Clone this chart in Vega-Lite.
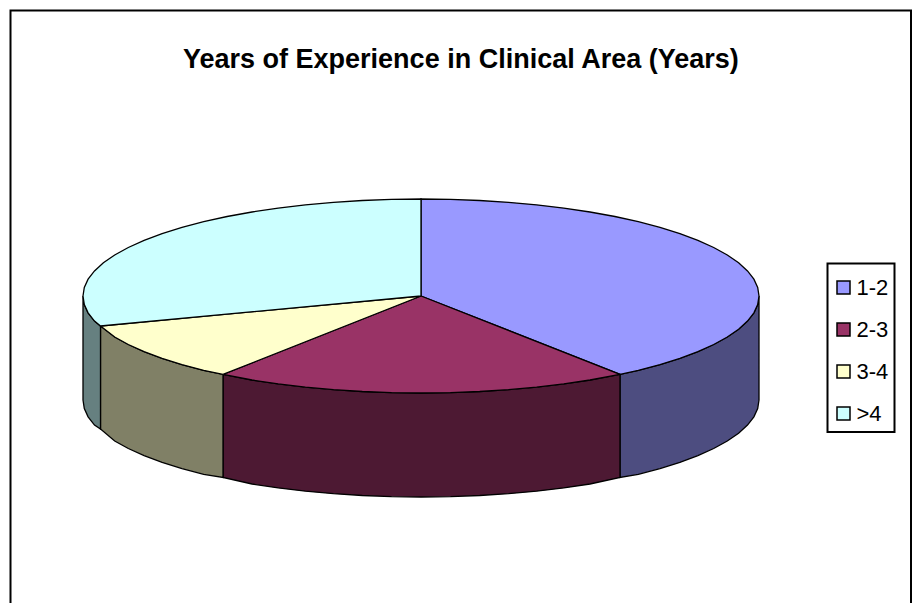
{"$schema":"https://vega.github.io/schema/vega-lite/v6.json","width":918,"height":603,"padding":0,"autosize":"none","background":"white","view":{"stroke":null},
"title":{"text":"Years of Experience in Clinical Area (Years)","font":"Liberation Sans","fontSize":27,"fontWeight":"bold","color":"#000000","anchor":"start","frame":"bounds","dx":183,"dy":0,"offset":-74},
"datasets":{"top":[
{"k":"1-2","i":0,"x":421,"y":296},{"k":"1-2","i":1,"x":421,"y":199},{"k":"1-2","i":2,"x":450.5,"y":199.4},{"k":"1-2","i":3,"x":479.7,"y":200.5},{"k":"1-2","i":4,"x":508.5,"y":202.3},{"k":"1-2","i":5,"x":536.6,"y":204.8},{"k":"1-2","i":6,"x":563.8,"y":208.1},{"k":"1-2","i":7,"x":590,"y":212},{"k":"1-2","i":8,"x":614.9,"y":216.5},{"k":"1-2","i":9,"x":638.3,"y":221.7},{"k":"1-2","i":10,"x":660,"y":227.4},{"k":"1-2","i":11,"x":679.9,"y":233.6},{"k":"1-2","i":12,"x":697.9,"y":240.4},{"k":"1-2","i":13,"x":713.7,"y":247.5},{"k":"1-2","i":14,"x":727.3,"y":255},{"k":"1-2","i":15,"x":738.6,"y":262.8},{"k":"1-2","i":16,"x":747.5,"y":270.9},{"k":"1-2","i":17,"x":753.9,"y":279.2},{"k":"1-2","i":18,"x":757.7,"y":287.5},{"k":"1-2","i":19,"x":759,"y":296},{"k":"1-2","i":20,"x":757.7,"y":304.5},{"k":"1-2","i":21,"x":753.9,"y":312.8},{"k":"1-2","i":22,"x":747.5,"y":321.1},{"k":"1-2","i":23,"x":738.6,"y":329.2},{"k":"1-2","i":24,"x":727.3,"y":337},{"k":"1-2","i":25,"x":713.7,"y":344.5},{"k":"1-2","i":26,"x":697.9,"y":351.6},{"k":"1-2","i":27,"x":679.9,"y":358.4},{"k":"1-2","i":28,"x":660,"y":364.6},{"k":"1-2","i":29,"x":638.3,"y":370.3},{"k":"1-2","i":30,"x":620,"y":374.4},{"k":"1-2","i":31,"x":421,"y":296},
{"k":"2-3","i":0,"x":421,"y":296},{"k":"2-3","i":1,"x":620,"y":374.4},{"k":"2-3","i":2,"x":590,"y":380},{"k":"2-3","i":3,"x":563.8,"y":383.9},{"k":"2-3","i":4,"x":536.6,"y":387.2},{"k":"2-3","i":5,"x":508.5,"y":389.7},{"k":"2-3","i":6,"x":479.7,"y":391.5},{"k":"2-3","i":7,"x":450.5,"y":392.6},{"k":"2-3","i":8,"x":421,"y":393},{"k":"2-3","i":9,"x":391.5,"y":392.6},{"k":"2-3","i":10,"x":362.3,"y":391.5},{"k":"2-3","i":11,"x":333.5,"y":389.7},{"k":"2-3","i":12,"x":305.4,"y":387.2},{"k":"2-3","i":13,"x":278.2,"y":383.9},{"k":"2-3","i":14,"x":252,"y":380},{"k":"2-3","i":15,"x":223,"y":374.4},{"k":"2-3","i":16,"x":421,"y":296},
{"k":"3-4","i":0,"x":421,"y":296},{"k":"3-4","i":1,"x":223,"y":374.4},{"k":"3-4","i":2,"x":203.7,"y":370.3},{"k":"3-4","i":3,"x":182,"y":364.6},{"k":"3-4","i":4,"x":162.1,"y":358.4},{"k":"3-4","i":5,"x":144.1,"y":351.6},{"k":"3-4","i":6,"x":128.3,"y":344.5},{"k":"3-4","i":7,"x":114.7,"y":337},{"k":"3-4","i":8,"x":100.5,"y":326},{"k":"3-4","i":9,"x":421,"y":296},
{"k":">4","i":0,"x":421,"y":296},{"k":">4","i":1,"x":100.5,"y":326},{"k":">4","i":2,"x":94.5,"y":321.1},{"k":">4","i":3,"x":88.1,"y":312.8},{"k":">4","i":4,"x":84.3,"y":304.5},{"k":">4","i":5,"x":83,"y":296},{"k":">4","i":6,"x":84.3,"y":287.5},{"k":">4","i":7,"x":88.1,"y":279.2},{"k":">4","i":8,"x":94.5,"y":270.9},{"k":">4","i":9,"x":103.4,"y":262.8},{"k":">4","i":10,"x":114.7,"y":255},{"k":">4","i":11,"x":128.3,"y":247.5},{"k":">4","i":12,"x":144.1,"y":240.4},{"k":">4","i":13,"x":162.1,"y":233.6},{"k":">4","i":14,"x":182,"y":227.4},{"k":">4","i":15,"x":203.7,"y":221.7},{"k":">4","i":16,"x":227.1,"y":216.5},{"k":">4","i":17,"x":252,"y":212},{"k":">4","i":18,"x":278.2,"y":208.1},{"k":">4","i":19,"x":305.4,"y":204.8},{"k":">4","i":20,"x":333.5,"y":202.3},{"k":">4","i":21,"x":362.3,"y":200.5},{"k":">4","i":22,"x":391.5,"y":199.4},{"k":">4","i":23,"x":421,"y":199},{"k":">4","i":24,"x":421,"y":296}
],
"side":[
{"k":"1-2","i":0,"x":759,"y":296},{"k":"1-2","i":1,"x":757.7,"y":304.5},{"k":"1-2","i":2,"x":753.9,"y":312.8},{"k":"1-2","i":3,"x":747.5,"y":321.1},{"k":"1-2","i":4,"x":738.6,"y":329.2},{"k":"1-2","i":5,"x":727.3,"y":337},{"k":"1-2","i":6,"x":713.7,"y":344.5},{"k":"1-2","i":7,"x":697.9,"y":351.6},{"k":"1-2","i":8,"x":679.9,"y":358.4},{"k":"1-2","i":9,"x":660,"y":364.6},{"k":"1-2","i":10,"x":638.3,"y":370.3},{"k":"1-2","i":11,"x":620,"y":374.4},{"k":"1-2","i":12,"x":620,"y":477.5},{"k":"1-2","i":13,"x":638.3,"y":474.3},{"k":"1-2","i":14,"x":660,"y":468.6},{"k":"1-2","i":15,"x":679.9,"y":462.4},{"k":"1-2","i":16,"x":697.9,"y":455.6},{"k":"1-2","i":17,"x":713.7,"y":448.5},{"k":"1-2","i":18,"x":727.3,"y":441},{"k":"1-2","i":19,"x":738.6,"y":433.2},{"k":"1-2","i":20,"x":747.5,"y":425.1},{"k":"1-2","i":21,"x":753.9,"y":416.8},{"k":"1-2","i":22,"x":757.7,"y":408.5},{"k":"1-2","i":23,"x":759,"y":400},{"k":"1-2","i":24,"x":759,"y":296},
{"k":"2-3","i":0,"x":620,"y":374.4},{"k":"2-3","i":1,"x":590,"y":380},{"k":"2-3","i":2,"x":563.8,"y":383.9},{"k":"2-3","i":3,"x":536.6,"y":387.2},{"k":"2-3","i":4,"x":508.5,"y":389.7},{"k":"2-3","i":5,"x":479.7,"y":391.5},{"k":"2-3","i":6,"x":450.5,"y":392.6},{"k":"2-3","i":7,"x":421,"y":393},{"k":"2-3","i":8,"x":391.5,"y":392.6},{"k":"2-3","i":9,"x":362.3,"y":391.5},{"k":"2-3","i":10,"x":333.5,"y":389.7},{"k":"2-3","i":11,"x":305.4,"y":387.2},{"k":"2-3","i":12,"x":278.2,"y":383.9},{"k":"2-3","i":13,"x":252,"y":380},{"k":"2-3","i":14,"x":223,"y":374.4},{"k":"2-3","i":15,"x":223,"y":477.5},{"k":"2-3","i":16,"x":252,"y":484},{"k":"2-3","i":17,"x":278.2,"y":487.9},{"k":"2-3","i":18,"x":305.4,"y":491.2},{"k":"2-3","i":19,"x":333.5,"y":493.7},{"k":"2-3","i":20,"x":362.3,"y":495.5},{"k":"2-3","i":21,"x":391.5,"y":496.6},{"k":"2-3","i":22,"x":421,"y":497},{"k":"2-3","i":23,"x":450.5,"y":496.6},{"k":"2-3","i":24,"x":479.7,"y":495.5},{"k":"2-3","i":25,"x":508.5,"y":493.7},{"k":"2-3","i":26,"x":536.6,"y":491.2},{"k":"2-3","i":27,"x":563.8,"y":487.9},{"k":"2-3","i":28,"x":590,"y":484},{"k":"2-3","i":29,"x":620,"y":477.5},{"k":"2-3","i":30,"x":620,"y":374.4},
{"k":"3-4","i":0,"x":223,"y":374.4},{"k":"3-4","i":1,"x":203.7,"y":370.3},{"k":"3-4","i":2,"x":182,"y":364.6},{"k":"3-4","i":3,"x":162.1,"y":358.4},{"k":"3-4","i":4,"x":144.1,"y":351.6},{"k":"3-4","i":5,"x":128.3,"y":344.5},{"k":"3-4","i":6,"x":114.7,"y":337},{"k":"3-4","i":7,"x":100.5,"y":326},{"k":"3-4","i":8,"x":100.5,"y":429},{"k":"3-4","i":9,"x":114.7,"y":441},{"k":"3-4","i":10,"x":128.3,"y":448.5},{"k":"3-4","i":11,"x":144.1,"y":455.6},{"k":"3-4","i":12,"x":162.1,"y":462.4},{"k":"3-4","i":13,"x":182,"y":468.6},{"k":"3-4","i":14,"x":203.7,"y":474.3},{"k":"3-4","i":15,"x":223,"y":477.5},{"k":"3-4","i":16,"x":223,"y":374.4},
{"k":">4","i":0,"x":100.5,"y":326},{"k":">4","i":1,"x":94.5,"y":321.1},{"k":">4","i":2,"x":88.1,"y":312.8},{"k":">4","i":3,"x":84.3,"y":304.5},{"k":">4","i":4,"x":83,"y":296},{"k":">4","i":5,"x":83,"y":400},{"k":">4","i":6,"x":84.3,"y":408.5},{"k":">4","i":7,"x":88.1,"y":416.8},{"k":">4","i":8,"x":94.5,"y":425.1},{"k":">4","i":9,"x":100.5,"y":429},{"k":">4","i":10,"x":100.5,"y":326}
],
"frame":[{"x":10.5,"y":10.5,"x2":911,"y2":640},{"x":827.5,"y":263.5,"x2":894.5,"y2":432}]},
"layer":[
{"data":{"name":"frame"},"mark":{"type":"rect","fill":"white","stroke":"#000000","strokeWidth":2},"encoding":{"x":{"field":"x","type":"quantitative","scale":{"domain":[0,918],"nice":false,"zero":false},"axis":null},"y":{"field":"y","type":"quantitative","scale":{"domain":[603,0],"nice":false,"zero":false},"axis":null},"x2":{"field":"x2"},"y2":{"field":"y2"}}},
{"data":{"name":"side"},"mark":{"type":"line","stroke":"#000000","strokeWidth":1.3,"interpolate":"linear"},"encoding":{"x":{"field":"x","type":"quantitative","scale":{"domain":[0,918],"nice":false,"zero":false},"axis":null},"y":{"field":"y","type":"quantitative","scale":{"domain":[603,0],"nice":false,"zero":false},"axis":null},"order":{"field":"i","type":"quantitative"},"fill":{"field":"k","type":"nominal","scale":{"domain":["1-2","2-3","3-4",">4"],"range":["#4D4D80","#4D1933","#808066","#668080"]},"legend":null}}},
{"data":{"name":"top"},"mark":{"type":"line","stroke":"#000000","strokeWidth":1.3,"interpolate":"linear"},"encoding":{"x":{"field":"x","type":"quantitative","scale":{"domain":[0,918],"nice":false,"zero":false},"axis":null},"y":{"field":"y","type":"quantitative","scale":{"domain":[603,0],"nice":false,"zero":false},"axis":null},"order":{"field":"i","type":"quantitative"},"fill":{"field":"k","type":"nominal","scale":{"domain":["1-2","2-3","3-4",">4"],"range":["#9999FF","#993366","#FFFFCC","#CCFFFF"]},"legend":{"title":null,"orient":"none","legendX":823.5,"legendY":267.5,"padding":9,"symbolType":"square","symbolSize":169,"symbolStrokeColor":"#000000","symbolStrokeWidth":1.5,"labelFont":"Liberation Sans","labelFontSize":22,"labelColor":"#000000","rowPadding":20,"labelOffset":2}}}}
],
"resolve":{"scale":{"fill":"independent"}}}
